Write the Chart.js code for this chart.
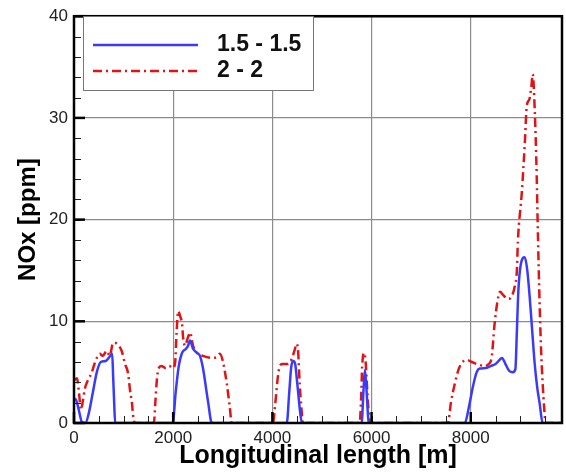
<!DOCTYPE html>
<html>
<head>
<meta charset="utf-8">
<script src="https://cdn.jsdelivr.net/npm/chart.js@4/dist/chart.umd.min.js"></script>
<style>
  body { margin: 0; background: #fff; }
  canvas { display: block; }
</style>
</head>
<body>
<canvas id="graficoNox" width="566" height="474"></canvas>
<script>
// valores
var rotulos = ['1.5 - 1.5', '2 - 2'];
var xTicks = [0, 2000, 4000, 6000, 8000];
var yTicks = [0, 10, 20, 30, 40];

var distA = [0, 40, 100, 160, 230, 300, 380, 460, 540, 640, 700, 770, 790, 810, 830,
  1990, 2050, 2110, 2180, 2260, 2300, 2340, 2400, 2480, 2540, 2600, 2700, 2780,
  4290, 4340, 4380, 4420, 4460, 4500, 4550, 4595,
  5800, 5835, 5865, 5895, 5945,
  7880, 7960, 8040, 8120, 8180, 8300, 8400, 8500, 8580, 8630, 8700, 8780, 8850, 8900,
  8930, 8960, 9010, 9090, 9140, 9190, 9240, 9290, 9340, 9390, 9450, 9840];
var noxA = [2.4, 2.3, 1.2, 0.1, 0, 1, 3, 5, 6, 6.1, 6.4, 6.8, 4.5, 2, 0,
  0, 3, 5.5, 6.9, 7.3, 7.6, 8.1, 7.3, 6.9, 6.6, 5.4, 2.2, 0,
  0, 3, 5.5, 6.1, 5.8, 4, 1.5, 0,
  0, 3, 5.2, 3.5, 0,
  0, 1.5, 3.5, 5, 5.35, 5.4, 5.6, 5.8, 6.2, 6.4, 5.8, 5.1, 5, 5.3,
  9, 13, 15.6, 16.3, 15, 12.3, 9, 5.8, 3.5, 1.9, 0, 0];

var distB = [0, 60, 100, 140, 180, 220, 280, 360, 420, 520, 580, 660, 720, 790, 860, 960, 1030, 1090, 1130, 1170, 1190, 1230,
  1610, 1640, 1670, 1710, 1760, 1850, 1920, 1995, 2040, 2070, 2100, 2140, 2180, 2200, 2240, 2290, 2340, 2400, 2480, 2600, 2800, 2880, 2940, 3000, 3080, 3140, 3180,
  4010, 4060, 4110, 4150, 4200, 4310, 4390, 4450, 4490, 4520, 4550, 4585, 4615,
  5760, 5790, 5810, 5850, 5880, 5905, 5935, 5965,
  7540, 7600, 7680, 7750, 7820, 7920, 8020, 8120, 8280, 8360, 8420, 8480, 8540, 8590, 8650, 8750, 8830, 8890,
  8930, 8950, 9030, 9090, 9130, 9180, 9220, 9250, 9290, 9330, 9350, 9390, 9420, 9450, 9480, 9510, 9840];
var noxB = [4.2, 4.4, 3, 1.3, 2.2, 3.4, 4.2, 5, 5.9, 6.8, 6.6, 7.1, 6.6, 7.9, 7.8, 7.1, 5.8, 4.9, 3.2, 1.9, 0.8, 0,
  0, 2, 4.2, 5.4, 5.6, 5.4, 5.6, 5.4, 6, 9, 11, 10.5, 9.7, 8.4, 7.6, 8.3, 8.9, 7.6, 6.9, 6.6, 6.4, 6.5, 6.8, 6.1, 3.9, 1.6, 0,
  0, 2, 4.5, 5.6, 5.8, 5.8, 6.3, 7.2, 7.8, 7, 3.9, 1.5, 0,
  0, 2.5, 5.5, 6.9, 6, 3.9, 1.5, 0,
  0, 2, 3.9, 5.2, 5.9, 6.2, 6, 5.8, 5.6, 5.8, 6.4, 9.7, 12, 12.9, 12.6, 12.2, 12.5, 13.5,
  15, 17.8, 22.7, 27.5, 31.2, 31.8, 33, 34.3, 30.8, 24.3, 19.5, 11.5, 7, 3.9, 1.5, 0, 0];

function pontos(xs, ys) {
  return xs.map(function (v, i) { return { x: v, y: ys[i] }; });
}

// moldura, ticks para dentro e legenda
var moldura = {
  id: 'moldura',
  afterDatasetsDraw: function (chart) {
    var ctx = chart.ctx, a = chart.chartArea, sx = chart.scales.x, sy = chart.scales.y;
    var v, p;
    ctx.save();
    ctx.strokeStyle = '#222';
    ctx.lineWidth = 1;
    for (v = 0; v <= 9500; v += 500) {
      p = Math.round(sx.getPixelForValue(v)) + 0.5;
      ctx.beginPath(); ctx.moveTo(p, a.bottom); ctx.lineTo(p, a.bottom - 7); ctx.stroke();
    }
    for (v = 0; v <= 40; v += 2) {
      p = Math.round(sy.getPixelForValue(v)) + 0.5;
      ctx.beginPath(); ctx.moveTo(a.left, p); ctx.lineTo(a.left + 7, p); ctx.stroke();
    }
    ctx.strokeStyle = '#000';
    ctx.lineWidth = 2.5;
    xTicks.forEach(function (t) {
      p = sx.getPixelForValue(t);
      ctx.beginPath(); ctx.moveTo(p, a.bottom); ctx.lineTo(p, a.bottom - 11); ctx.stroke();
    });
    yTicks.forEach(function (t) {
      p = sy.getPixelForValue(t);
      ctx.beginPath(); ctx.moveTo(a.left, p); ctx.lineTo(a.left + 11, p); ctx.stroke();
    });
    ctx.lineWidth = 2.5;
    ctx.strokeRect(a.left, a.top, a.right - a.left, a.bottom - a.top);

    // legenda
    ctx.fillStyle = '#fff';
    ctx.fillRect(83, 16, 230, 74);
    ctx.strokeStyle = '#777';
    ctx.lineWidth = 1;
    ctx.strokeRect(83.5, 16.5, 230, 74);
    ctx.font = 'bold 23px "Liberation Sans", Arial, sans-serif';
    ctx.textBaseline = 'middle';
    chart.data.datasets.forEach(function (ds, i) {
      var ly = 45 + i * 26;
      ctx.strokeStyle = ds.borderColor;
      ctx.lineWidth = ds.borderWidth;
      ctx.setLineDash(ds.borderDash || []);
      ctx.beginPath(); ctx.moveTo(93, ly); ctx.lineTo(198, ly); ctx.stroke();
      ctx.setLineDash([]);
      ctx.fillStyle = '#111';
      ctx.fillText(ds.label, 217, ly);
    });
    ctx.restore();
  }
};

var ctx = document.getElementById('graficoNox').getContext('2d');
var graficoNox = new Chart(ctx, {
  type: 'line',
  data: {
    datasets: [{
      label: rotulos[0],
      data: pontos(distA, noxA),
      borderColor: '#3a3aff',
      borderWidth: 2.5,
      pointRadius: 0,
      cubicInterpolationMode: 'monotone'
    }, {
      label: rotulos[1],
      data: pontos(distB, noxB),
      borderColor: '#e01414',
      borderWidth: 2.5,
      borderDash: [9, 4, 2, 4],
      pointRadius: 0,
      cubicInterpolationMode: 'monotone'
    }]
  },
  plugins: [moldura],
  options: {
    responsive: false,
    animation: false,
    devicePixelRatio: 1,
    layout: { padding: { top: 12, right: 4, bottom: 0, left: 0 } },
    plugins: { legend: { display: false }, tooltip: { enabled: false } },
    scales: {
      x: {
        type: 'linear',
        min: 0,
        max: 9840,
        afterFit: function (s) { s.height = 51; },
        afterBuildTicks: function (s) { s.ticks = xTicks.map(function (v) { return { value: v }; }); },
        grid: { color: '#8c8c8c', lineWidth: 1.2, drawTicks: false },
        border: { display: false },
        ticks: {
          padding: 5,
          color: '#222',
          font: { family: '"Liberation Sans", Arial, sans-serif', size: 17 },
          callback: function (v) { return String(v); }
        },
        title: {
          display: true,
          text: 'Longitudinal length [m]',
          color: '#000',
          padding: { top: 0, bottom: 3 },
          font: { family: '"Liberation Sans", Arial, sans-serif', size: 25, weight: 'bold' }
        }
      },
      y: {
        min: 0,
        max: 40,
        afterFit: function (s) { s.width = 74; },
        afterBuildTicks: function (s) { s.ticks = yTicks.map(function (v) { return { value: v }; }); },
        grid: { color: '#8c8c8c', lineWidth: 1.2, drawTicks: false },
        border: { display: false },
        ticks: {
          padding: 6,
          color: '#222',
          font: { family: '"Liberation Sans", Arial, sans-serif', size: 17 },
          callback: function (v) { return String(v); }
        },
        title: {
          display: true,
          text: 'NOx [ppm]',
          color: '#000',
          padding: { top: 14, bottom: 0 },
          font: { family: '"Liberation Sans", Arial, sans-serif', size: 24, weight: 'bold' }
        }
      }
    }
  }
});
</script>
</body>
</html>
